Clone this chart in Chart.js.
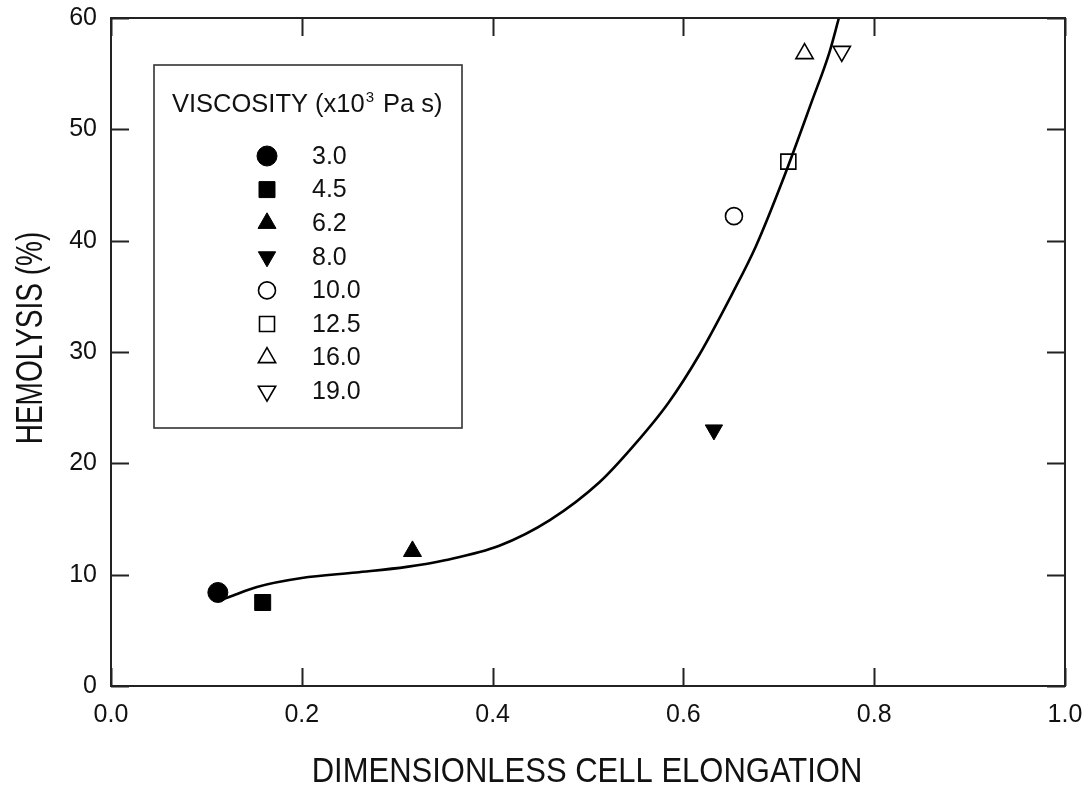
<!DOCTYPE html>
<html><head><meta charset="utf-8">
<script src="https://cdn.jsdelivr.net/npm/chart.js@4.4.1/dist/chart.umd.min.js"></script>
<style>html,body{margin:0;padding:0;background:#fff}#wrap{width:1092px;height:785px}</style>
</head><body><div id="wrap"><canvas id="c" width="1092" height="785"></canvas></div>
<script>
// ---- data ----
const viscosityLabels = ['3.0', '4.5', '6.2', '8.0', '10.0', '12.5', '16.0', '19.0'];
const elongation = [0.112, 0.159, 0.316, 0.632, 0.653, 0.710, 0.727, 0.766];
const hemolysis = [8.4, 7.5, 12.1, 23.0, 42.2, 47.1, 56.8, 57.0];
const fitElongation = [0.115, 0.13, 0.153, 0.2, 0.257, 0.31, 0.35, 0.407, 0.46, 0.512, 0.547, 0.584, 0.617, 0.651, 0.676, 0.704, 0.735, 0.753, 0.763];
const fitHemolysis = [7.7, 8.2, 8.9, 9.7, 10.2, 10.7, 11.3, 12.6, 14.9, 18.3, 21.5, 25.4, 29.8, 35.2, 39.5, 45.4, 52.6, 56.9, 60.0];
const xTickValues = [0, 0.2, 0.4, 0.6, 0.8, 1.0];
const yTickValues = [0, 10, 20, 30, 40, 50, 60];
const legendTitle = ['VISCOSITY (x10', '3', 'Pa s)'];
const xTitle = 'DIMENSIONLESS CELL ELONGATION';
const yTitle = 'HEMOLYSIS (%)';

// ---- styles ----
const FONT = '"Liberation Sans", Arial, Helvetica, sans-serif';
const INK = '#111';
const markerStyles = [
  {pointStyle: 'circle', rotation: 0, radius: 10, filled: true},
  {pointStyle: 'rect', rotation: 0, radius: 11.3, filled: true},
  {pointStyle: 'triangle', rotation: 0, radius: 10.4, filled: true},
  {pointStyle: 'triangle', rotation: 180, radius: 10, filled: true},
  {pointStyle: 'circle', rotation: 0, radius: 8.5, filled: false},
  {pointStyle: 'rect', rotation: 0, radius: 10.6, filled: false},
  {pointStyle: 'triangle', rotation: 0, radius: 10, filled: false},
  {pointStyle: 'triangle', rotation: 180, radius: 10, filled: false}
];

const datasets = viscosityLabels.map((lab, i) => {
  const s = markerStyles[i];
  return {
    label: lab,
    type: 'scatter',
    data: [{x: elongation[i], y: hemolysis[i]}],
    pointStyle: s.pointStyle,
    rotation: s.rotation,
    pointRadius: s.radius,
    pointHoverRadius: s.radius,
    backgroundColor: s.filled ? '#000' : 'rgba(0,0,0,0)',
    borderColor: '#000',
    borderWidth: s.filled ? 1 : 1.6,
    order: 1
  };
});
datasets.push({
  label: 'fit',
  type: 'line',
  data: fitElongation.map((x, i) => ({x, y: fitHemolysis[i]})),
  borderColor: '#000',
  borderWidth: 2.6,
  pointRadius: 0,
  fill: false,
  cubicInterpolationMode: 'monotone',
  order: 0
});

const framePlugin = {
  id: 'frameTicks',
  afterDatasetsDraw(chart) {
    const {ctx, chartArea: a, scales} = chart;
    const L = 18;
    ctx.save();
    ctx.strokeStyle = '#222';
    ctx.lineWidth = 2;
    ctx.beginPath();
    xTickValues.forEach(v => {
      const px = Math.round(scales.x.getPixelForValue(v)) + 0.5;
      ctx.moveTo(px, a.bottom); ctx.lineTo(px, a.bottom - L);
      ctx.moveTo(px, a.top); ctx.lineTo(px, a.top + L);
    });
    yTickValues.forEach(v => {
      const py = Math.round(scales.y.getPixelForValue(v)) + 0.5;
      ctx.moveTo(a.left, py); ctx.lineTo(a.left + L, py);
      ctx.moveTo(a.right, py); ctx.lineTo(a.right - L, py);
    });
    ctx.stroke();
    ctx.strokeRect(a.left, a.top, a.right - a.left, a.bottom - a.top);
    ctx.restore();
  },
  afterDraw(chart) {
    const {ctx, chartArea: a} = chart;
    ctx.save();
    ctx.fillStyle = INK;
    ctx.textAlign = 'center';
    ctx.textBaseline = 'alphabetic';
    ctx.font = '31px ' + FONT;
    ctx.save();
    ctx.translate((a.left + a.right) / 2 - 1, 782);
    ctx.scale(1, 1.13);
    ctx.fillText(xTitle, 0, 0);
    ctx.restore();
    ctx.save();
    ctx.font = '28px ' + FONT;
    ctx.translate(42, 338);
    ctx.rotate(-Math.PI / 2);
    ctx.scale(1, 1.3);
    ctx.fillText(yTitle, 0, 0);
    ctx.restore();

    // legend box
    const bx = 154, by = 65, bw = 308, bh = 363;
    ctx.fillStyle = '#fff';
    ctx.fillRect(bx, by, bw, bh);
    ctx.strokeStyle = '#333';
    ctx.lineWidth = 1.6;
    ctx.strokeRect(bx, by, bw, bh);
    ctx.fillStyle = INK;
    ctx.textAlign = 'left';
    ctx.textBaseline = 'alphabetic';
    ctx.font = '25.5px ' + FONT;
    ctx.fillText(legendTitle[0], 172, 112);
    const w0 = ctx.measureText(legendTitle[0]).width;
    ctx.font = '15px ' + FONT;
    ctx.fillText(legendTitle[1], 172 + w0 + 1, 102);
    ctx.font = '25.5px ' + FONT;
    ctx.fillText(legendTitle[2], 383, 112);

    ctx.textBaseline = 'middle';
    ctx.font = '25px ' + FONT;
    viscosityLabels.forEach((lab, i) => {
      const ds = chart.data.datasets[i];
      const y = 156 + i * 33.6;
      ctx.fillStyle = ds.backgroundColor;
      ctx.strokeStyle = ds.borderColor;
      ctx.lineWidth = ds.borderWidth;
      Chart.helpers.drawPoint(ctx, {pointStyle: ds.pointStyle, rotation: ds.rotation, radius: ds.pointRadius, borderWidth: ds.borderWidth}, 267, y);
      ctx.fillStyle = INK;
      ctx.fillText(lab, 312, y + 1);
    });
    ctx.restore();
  }
};

new Chart(document.getElementById('c'), {
  type: 'scatter',
  data: {datasets},
  options: {
    responsive: false,
    animation: false,
    devicePixelRatio: 1,
    layout: {padding: {top: 18, right: 27, left: 0, bottom: 0}},
    plugins: {legend: {display: false}, tooltip: {enabled: false}},
    scales: {
      x: {
        type: 'linear', min: 0, max: 1,
        afterFit: s => { s.height = 99; s.paddingLeft = 0; s.paddingRight = 0; s.paddingTop = 0; s.paddingBottom = 0; },
        afterBuildTicks: s => { s.ticks = xTickValues.map(v => ({value: v})); },
        grid: {display: false, drawTicks: false},
        border: {display: false},
        ticks: {padding: 14, color: INK, font: {family: FONT, size: 25}, callback: v => Number(v).toFixed(1), maxRotation: 0}
      },
      y: {
        type: 'linear', min: 0, max: 60,
        afterFit: s => { s.width = 111; s.paddingLeft = 0; s.paddingRight = 0; s.paddingTop = 0; s.paddingBottom = 0; },
        afterBuildTicks: s => { s.ticks = yTickValues.map(v => ({value: v})); },
        grid: {display: false, drawTicks: false},
        border: {display: false},
        ticks: {padding: 14, color: INK, font: {family: FONT, size: 25}, callback: v => String(v)}
      }
    }
  },
  plugins: [framePlugin]
});
</script></body></html>
